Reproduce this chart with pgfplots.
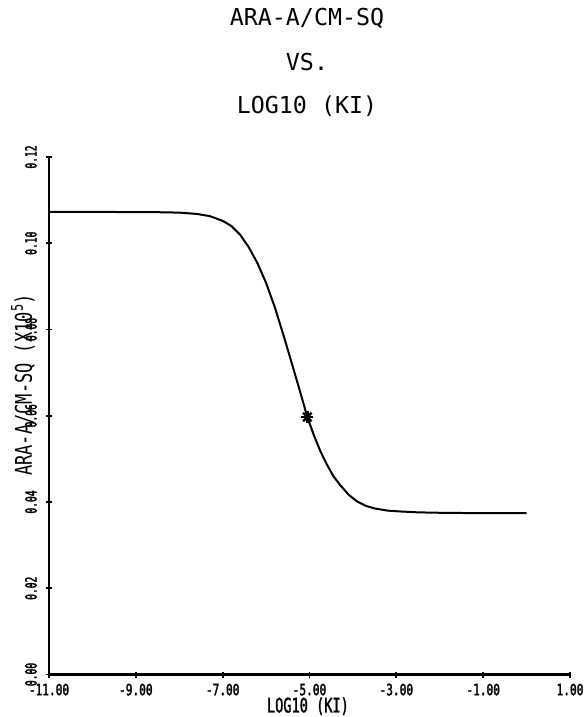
\documentclass[border=0pt]{standalone}
\usepackage{pgfplots}
\pgfplotsset{compat=1.18}
\usepackage{fontspec}
\setmainfont{DejaVu Sans Mono}
\newfontfamily\titlefont{DejaVu Sans Mono}
\newfontfamily\ylabfont[FakeStretch=0.74]{DejaVu Sans Mono}
\newfontfamily\xlabfont[FakeStretch=0.68,FakeBold=1.5]{DejaVu Sans Mono}
\newfontfamily\xtickfont[FakeStretch=0.72,FakeBold=2]{DejaVu Sans Mono}
\newfontfamily\ytickfont[FakeStretch=0.62,FakeBold=2]{DejaVu Sans Mono}

\pgfplotstableread{
x y
-11.00 0.1073
-10.00 0.1073
-9.00 0.1072
-8.50 0.1072
-8.00 0.1071
-7.60 0.1068
-7.30 0.1063
-7.00 0.1052
-6.80 0.1040
-6.60 0.1020
-6.40 0.0991
-6.20 0.0954
-6.00 0.0908
-5.80 0.0852
-5.60 0.0787
-5.40 0.0719
-5.20 0.0650
-5.05 0.0597
-4.90 0.0555
-4.75 0.0518
-4.60 0.0487
-4.45 0.0460
-4.30 0.0440
-4.10 0.0417
-3.90 0.0401
-3.70 0.0391
-3.50 0.0385
-3.20 0.0380
-2.90 0.0378
-2.50 0.0376
-2.00 0.0375
-1.00 0.0374
0.00 0.0374
}\curvedata

\pgfplotstableread{
x y
-5.05 0.0597
}\stardata

\begin{document}
\begin{tikzpicture}
\useasboundingbox (-49pt,-42.5pt) rectangle (537pt,674.5pt);
\begin{axis}[
  at={(0,0)}, anchor=south west,
  scale only axis,
  width=521pt, height=517.5pt,
  xmin=-11, xmax=1, ymin=0, ymax=0.12,
  axis x line=bottom, axis y line=left,
  axis line style={-, line width=2.6pt},
  xtick={-11,-9,-7,-5,-3,-1,1},
  xticklabels={-11.00,-9.00,-7.00,-5.00,-3.00,-1.00,1.00},
  ytick={0,0.02,0.04,0.06,0.08,0.10,0.12},
  yticklabels={0.00,0.02,0.04,0.06,0.08,0.10,0.12},
  tick align=center,
  major tick length=6pt,
  tick style={line width=1.8pt, black},
  xticklabel style={font=\xtickfont\fontsize{15.5}{15.5}\selectfont, anchor=north, inner sep=0pt, yshift=-6pt},
  yticklabel style={font=\ytickfont\fontsize{15.5}{15.5}\selectfont, xshift=-9pt, rotate=90, anchor=south, inner sep=0pt},
  xlabel={\xlabfont\fontsize{20}{20}\selectfont LOG10 (KI)},
  xlabel style={at={(axis description cs:0.497,-0.0612)}, anchor=center, inner sep=0pt},
  ylabel={\ylabfont\fontsize{23}{23}\selectfont ARA-A/CM-SQ (X10\textsuperscript{5})},
  ylabel style={at={(axis description cs:-0.0499,0.5594)}, anchor=center, inner sep=0pt},
  clip=false,
]
\addplot[black, line width=2pt] table[x=x,y=y] {\curvedata};
\addplot[only marks, mark=x, mark size=6pt, black, line width=2.4pt] table[x=x,y=y] {\stardata};
\addplot[only marks, mark=+, mark size=6pt, black, line width=2.4pt] table[x=x,y=y] {\stardata};
\end{axis}
\node[font=\titlefont\fontsize{23.3}{23.3}\selectfont, anchor=center] at (258pt,656.5pt) {ARA-A/CM-SQ};
\node[font=\titlefont\fontsize{23.3}{23.3}\selectfont, anchor=center] at (258pt,612.5pt) {VS.};
\node[font=\titlefont\fontsize{23.3}{23.3}\selectfont, anchor=center] at (258pt,568.5pt) {LOG10 (KI)};
\end{tikzpicture}
\end{document}
